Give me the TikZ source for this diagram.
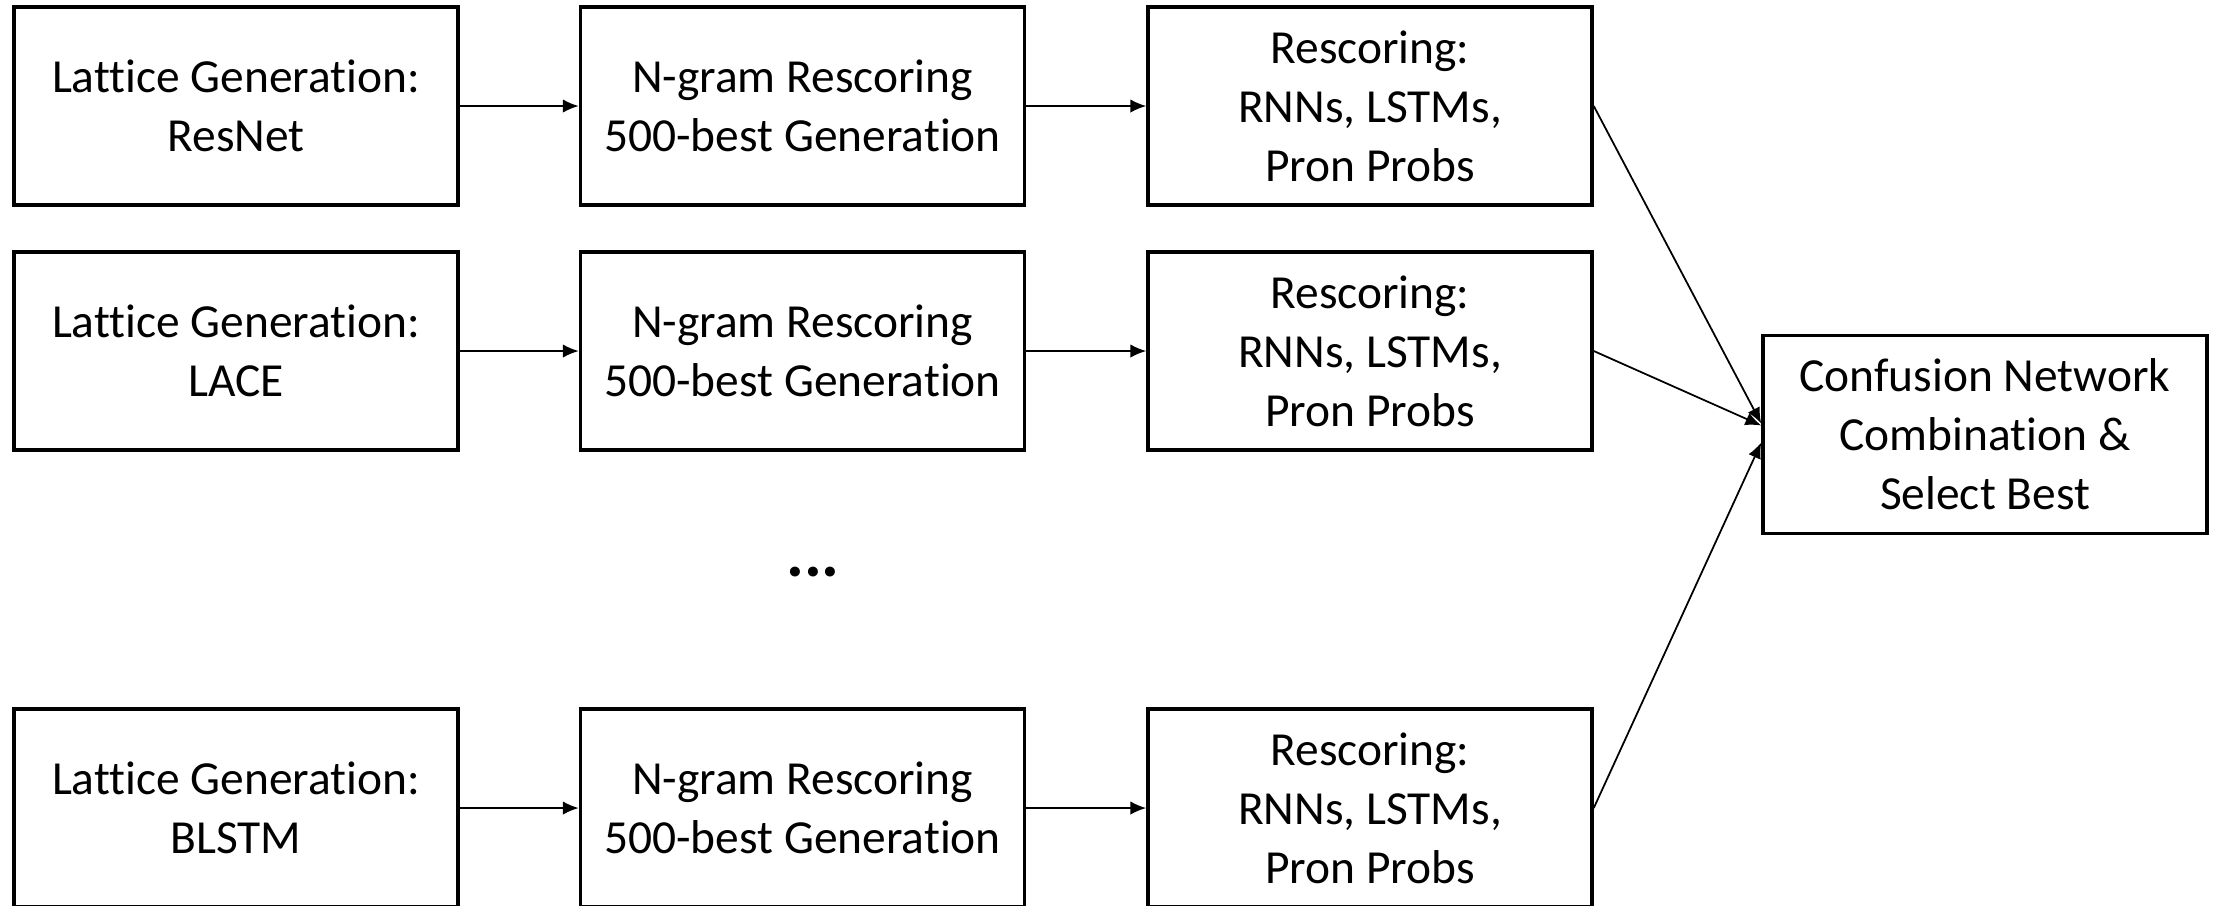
\documentclass[tikz,border=0pt]{standalone}
\usepackage{fontspec}
\setmainfont{Carlito}[Ligatures={NoCommon}]
\usetikzlibrary{arrows.meta}
\begin{document}
\begin{tikzpicture}[
    stage/.style={rectangle, draw, line width=1pt, minimum width=4.44cm, minimum height=1.98cm, align=center, font=\fontsize{13.5}{16.8}\selectfont},
    link/.style={-{Latex[length=4.5pt,width=3.8pt]}, line width=0.5pt}
]
    \useasboundingbox (0,0) rectangle (22.17,-9.05);

    % First system
    \node[stage] (lat1) at (2.36,-1.06) {Lattice Generation:\\ResNet};
    \node[stage] (ngr1) at (8.025,-1.06) {N-gram Rescoring\\500-best Generation};
    \node[stage] (res1) at (13.70,-1.06) {Rescoring:\\RNNs, LSTMs,\\Pron Probs};

    % Second system
    \node[stage] (lat2) at (2.36,-3.51) {Lattice Generation:\\LACE};
    \node[stage] (ngr2) at (8.025,-3.51) {N-gram Rescoring\\500-best Generation};
    \node[stage] (res2) at (13.70,-3.51) {Rescoring:\\RNNs, LSTMs,\\Pron Probs};

    % More systems
    \node[anchor=base, font=\fontsize{19}{21}\selectfont\bfseries] (dots) at (8.13,-5.76) {...};

    % Last system
    \node[stage] (lat3) at (2.36,-8.08) {Lattice Generation:\\BLSTM};
    \node[stage] (ngr3) at (8.025,-8.08) {N-gram Rescoring\\500-best Generation};
    \node[stage] (res3) at (13.70,-8.08) {Rescoring:\\RNNs, LSTMs,\\Pron Probs};

    % Combination
    \node[stage] (cnc) at (19.85,-4.345) {Confusion Network\\Combination \&\\Select Best};

    % Pipelines
    \draw[link] (lat1) -- (ngr1);
    \draw[link] (ngr1) -- (res1);
    \draw[link] (lat2) -- (ngr2);
    \draw[link] (ngr2) -- (res2);
    \draw[link] (lat3) -- (ngr3);
    \draw[link] (ngr3) -- (res3);

    % Into the combination
    \draw[link] (res1.east) -- ([yshift=1.1mm]cnc.west);
    \draw[link] (res2.east) -- ([yshift=0.9mm]cnc.west);
    \draw[link] (res3.east) -- ([yshift=-0.8mm]cnc.west);
\end{tikzpicture}
\end{document}
